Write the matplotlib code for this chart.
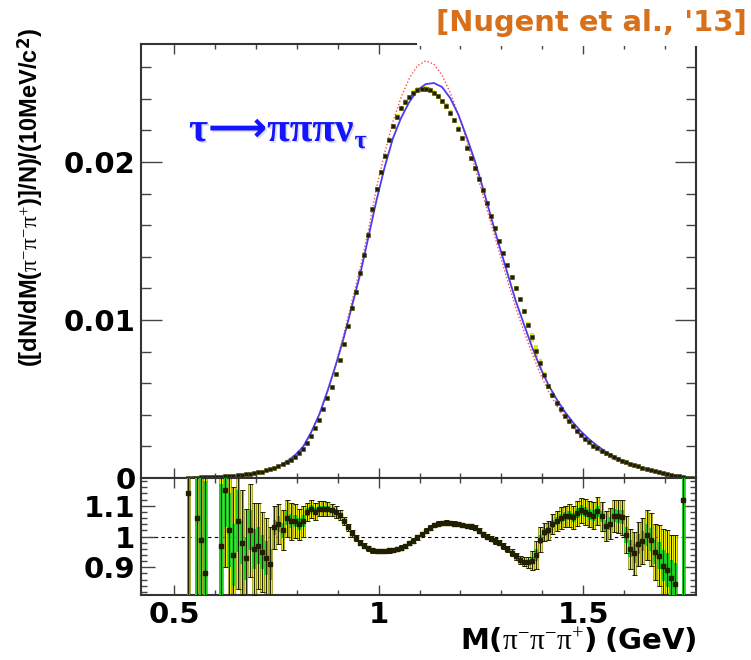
import numpy as np
import matplotlib
matplotlib.use('Agg')
import matplotlib.pyplot as plt
from matplotlib.ticker import MultipleLocator, FuncFormatter
from matplotlib.patches import Rectangle
import matplotlib.patheffects as pe

# 10 MeV bins, first centre at 0.535 GeV
bin_lo = 0.53
bin_w = 0.01
n_bins = 124
mass = np.round(bin_lo + bin_w / 2 + bin_w * np.arange(n_bins), 3)

# normalised spectrum (data points)
data = [0.00001, 0.00002, 0.00003, 0.00004, 0.00005, 0.00006, 0.00007, 0.00008, 0.00009, 0.00010,
        0.00012, 0.00013, 0.00016, 0.00019, 0.00023, 0.00027, 0.00031, 0.00036, 0.00041, 0.00048,
        0.00056, 0.00065, 0.00075, 0.00087, 0.00100, 0.00117, 0.00136, 0.00160, 0.00185, 0.00222,
        0.00265, 0.00315, 0.00370, 0.00435, 0.00505, 0.00578, 0.00660, 0.00745, 0.00845, 0.00960,
        0.01075, 0.01180, 0.01300, 0.01410, 0.01540, 0.01700, 0.01830, 0.01935, 0.02040, 0.02140,
        0.02225, 0.02285, 0.02340, 0.02380, 0.02410, 0.02440, 0.02455, 0.02460, 0.02462, 0.02458,
        0.02440, 0.02415, 0.02385, 0.02355, 0.02310, 0.02265, 0.02210, 0.02150, 0.02090, 0.02025,
        0.01960, 0.01895, 0.01820, 0.01740, 0.01660, 0.01580, 0.01500, 0.01425, 0.01350, 0.01270,
        0.01200, 0.01130, 0.01055, 0.00970, 0.00890, 0.00805, 0.00725, 0.00650, 0.00580, 0.00525,
        0.00475, 0.00435, 0.00395, 0.00360, 0.00330, 0.00300, 0.00272, 0.00247, 0.00225, 0.00205,
        0.00188, 0.00172, 0.00157, 0.00144, 0.00131, 0.00120, 0.00109, 0.00099, 0.00090, 0.00081,
        0.00073, 0.00065, 0.00057, 0.00050, 0.00043, 0.00036, 0.00030, 0.00024, 0.00019, 0.00014,
        0.00010, 0.00006, 0.00003, 0.00001]

nan = np.nan
# ratio panel values and half-widths of the yellow (total) and green (stat) bands
ratio = [1.14, nan, 1.06, 0.99, 0.88, nan, nan, nan, 0.97, 1.15,
         1.02, 0.94, 1.05, 0.98, 0.93, 1.02, 0.96, 0.97, 0.95, 0.93,
         0.91, 1.03, 1.04, 1.02, 1.06, 1.05, 1.05, 1.04, 1.05, 1.08,
         1.09, 1.08, 1.09, 1.09, 1.09, 1.085, 1.08, 1.07, 1.05, 1.03,
         1.01, 0.995, 0.98, 0.97, 0.962, 0.956, 0.953, 0.952, 0.953, 0.955,
         0.957, 0.960, 0.964, 0.970, 0.978, 0.987, 0.997, 1.008, 1.019, 1.029,
         1.037, 1.042, 1.044, 1.045, 1.044, 1.042, 1.040, 1.037, 1.035, 1.033,
         1.028, 1.018, 1.008, 1.000, 0.993, 0.986, 0.980, 0.970, 0.960, 0.948,
         0.936, 0.925, 0.918, 0.916, 0.922, 0.94, 0.99, 1.015, 1.02, 1.04,
         1.05, 1.06, 1.065, 1.068, 1.062, 1.075, 1.085, 1.08, 1.072, 1.068,
         1.082, 1.065, 1.035, 1.042, 1.068, 1.065, 1.062, 1.005, 0.96, 0.945,
         0.975, 0.985, 1.005, 0.99, 0.95, 0.938, 0.905, 0.89, 0.865, 0.845,
         nan, 1.12, nan, nan]

ratio_tot = [0.5, 0, 0.45, 0.42, 0.4, 0, 0, 0, 0.3, 0.25,
             0.25, 0.22, 0.22, 0.17, 0.16, 0.15, 0.15, 0.14, 0.13, 0.13,
             0.12, 0.07, 0.065, 0.065, 0.06, 0.06, 0.055, 0.05, 0.05, 0.03,
             0.03, 0.028, 0.025, 0.025, 0.022, 0.02, 0.02, 0.015, 0.013, 0.012,
             0.010, 0.009, 0.009, 0.008, 0.008, 0.008, 0.008, 0.007, 0.007, 0.007,
             0.007, 0.007, 0.007, 0.007, 0.007, 0.007, 0.007, 0.007, 0.007, 0.007,
             0.007, 0.007, 0.007, 0.007, 0.007, 0.007, 0.007, 0.007, 0.007, 0.008,
             0.008, 0.008, 0.008, 0.008, 0.008, 0.009, 0.009, 0.009, 0.010, 0.011,
             0.012, 0.013, 0.015, 0.018, 0.03, 0.045, 0.04, 0.03, 0.03, 0.032,
             0.033, 0.035, 0.035, 0.037, 0.038, 0.04, 0.04, 0.042, 0.042, 0.044,
             0.045, 0.046, 0.048, 0.05, 0.052, 0.055, 0.058, 0.06, 0.065, 0.07,
             0.072, 0.075, 0.08, 0.085, 0.09, 0.10, 0.12, 0.13, 0.14, 0.16,
             0, 0.5, 0, 0]

ratio_stat = [0.5, 0, 0.3, 0.28, 0.3, 0, 0, 0, 0.2, 0.12,
              0.12, 0.1, 0.1, 0.07, 0.07, 0.065, 0.065, 0.06, 0.055, 0.055,
              0.05, 0.025, 0.025, 0.025, 0.022, 0.022, 0.02, 0.02, 0.02, 0.012,
              0.012, 0.011, 0.01, 0.01, 0.009, 0.008, 0.008, 0.006, 0.005, 0.005,
              0.004, 0.003, 0.003, 0.003, 0.003, 0.003, 0.003, 0.002, 0.002, 0.002,
              0.002, 0.002, 0.002, 0.002, 0.002, 0.002, 0.002, 0.002, 0.002, 0.002,
              0.002, 0.002, 0.002, 0.002, 0.002, 0.002, 0.002, 0.002, 0.002, 0.003,
              0.003, 0.003, 0.003, 0.003, 0.003, 0.003, 0.003, 0.003, 0.004, 0.004,
              0.005, 0.005, 0.006, 0.007, 0.012, 0.018, 0.015, 0.012, 0.012, 0.013,
              0.013, 0.014, 0.014, 0.015, 0.015, 0.016, 0.016, 0.017, 0.017, 0.018,
              0.018, 0.019, 0.02, 0.02, 0.021, 0.022, 0.023, 0.025, 0.028, 0.03,
              0.032, 0.033, 0.035, 0.037, 0.04, 0.045, 0.05, 0.055, 0.06, 0.07,
              0, 0.5, 0, 0]

# model curves, 20 MeV steps from 0.535 GeV
curve_mass = np.round(0.535 + 0.02 * np.arange(63), 3)
model_blue = [0.00001, 0.00003, 0.00005, 0.00007, 0.00009, 0.00012, 0.00016, 0.00021, 0.00029, 0.00038,
              0.00050, 0.00073, 0.00104, 0.00143, 0.00196, 0.00289, 0.00403, 0.00550, 0.00713, 0.00890,
              0.01090, 0.01290, 0.01525, 0.01760, 0.01970, 0.02150, 0.02280, 0.02380, 0.02455, 0.02493,
              0.02500, 0.02475, 0.02405, 0.02300, 0.02160, 0.02010, 0.01835, 0.01650, 0.01470, 0.01296,
              0.01123, 0.00975, 0.00830, 0.00700, 0.00590, 0.00500, 0.00420, 0.00352, 0.00294, 0.00245,
              0.00203, 0.00167, 0.00138, 0.00113, 0.00092, 0.00074, 0.00058, 0.00044, 0.00031, 0.00020,
              0.00011, 0.00004, 0.00000]
model_red = [0.00001, 0.00002, 0.00004, 0.00006, 0.00008, 0.00011, 0.00015, 0.00020, 0.00027, 0.00036,
             0.00048, 0.00072, 0.00100, 0.00138, 0.00190, 0.00285, 0.00400, 0.00550, 0.00720, 0.00910,
             0.01120, 0.01330, 0.01570, 0.01840, 0.02060, 0.02255, 0.02410, 0.02530, 0.02610, 0.02640,
             0.02620, 0.02550, 0.02440, 0.02300, 0.02140, 0.01970, 0.01790, 0.01610, 0.01430, 0.01250,
             0.01080, 0.00930, 0.00790, 0.00660, 0.00550, 0.00460, 0.00380, 0.00320, 0.00260, 0.00215,
             0.00178, 0.00145, 0.00118, 0.00096, 0.00077, 0.00061, 0.00047, 0.00035, 0.00024, 0.00015,
             0.00008, 0.00003, 0.00000]

data = np.array(data)
ratio = np.array(ratio)
ratio_tot = np.array(ratio_tot)
ratio_stat = np.array(ratio_stat)
data_err = data * ratio_tot

plt.rcParams['mathtext.fontset'] = 'custom'
plt.rcParams['mathtext.rm'] = 'Liberation Serif'
plt.rcParams['mathtext.bf'] = 'DejaVu Sans:bold'
plt.rcParams['mathtext.it'] = 'Liberation Serif:italic'

W, H = 751, 660
fig = plt.figure(figsize=(W / 100, H / 100), dpi=100)
ax = fig.add_axes([141 / W, 1 - 478 / H, (696 - 141) / W, (478 - 44) / H])
axr = fig.add_axes([141 / W, 1 - 595 / H, (696 - 141) / W, (595 - 478) / H], sharex=ax)

tick_font = dict(family='DejaVu Sans', weight='bold', size=21)

# main panel
ax.bar(mass, 2 * data_err, bottom=data - data_err, width=0.008,
       color='#e6e600', edgecolor='none', zorder=2)
ax.plot(curve_mass, model_red, color='#ff4a4a', lw=1.0, ls=(0, (1, 1.5)), zorder=3)
ax.plot(curve_mass, model_blue, color='#4b3cf0', lw=1.3, zorder=3)
ax.plot(mass, data, 's', color='#1e1e0a', ms=2.7, mew=0.4, mec='#4a4a00', zorder=4)

ax.set_xlim(0.419, 1.776)
ax.set_ylim(0, 0.02747)
ax.xaxis.set_major_locator(MultipleLocator(0.5))
ax.xaxis.set_minor_locator(MultipleLocator(0.1))
ax.yaxis.set_major_locator(MultipleLocator(0.01))
ax.yaxis.set_minor_locator(MultipleLocator(0.002))
ax.yaxis.set_major_formatter(FuncFormatter(lambda v, p: '%g' % round(v, 4)))
ax.tick_params(which='both', direction='in', top=True, right=True, labelbottom=False,
               color='#444444', width=1.0, pad=4)
ax.tick_params(axis='x', which='major', length=7)
ax.tick_params(axis='x', which='minor', length=3.5)
ax.tick_params(axis='y', which='major', length=15)
ax.tick_params(axis='y', which='minor', length=7.5)
for lab in ax.get_yticklabels():
    lab.set_fontproperties(tick_font)

# ratio panel
ok = ~np.isnan(ratio)
axr.axhline(1.0, color='black', lw=0.8, ls=(0, (3, 3)), zorder=1)
axr.bar(mass[ok], 2 * ratio_tot[ok], bottom=ratio[ok] - ratio_tot[ok], width=0.0085,
        color='#eeee00', edgecolor='#707000', linewidth=0.4, zorder=2)
axr.bar(mass[ok], 2 * ratio_stat[ok], bottom=ratio[ok] - ratio_stat[ok], width=0.0085,
        color='#22cc22', edgecolor='none', zorder=3)
axr.errorbar(mass[ok], ratio[ok], yerr=ratio_tot[ok], fmt='s', ms=2.2, color='#202000',
             elinewidth=0.7, capsize=1.8, capthick=0.7, zorder=4)

axr.set_ylim(0.81, 1.19)
axr.yaxis.set_major_locator(MultipleLocator(0.1))
axr.yaxis.set_minor_locator(MultipleLocator(0.02))
axr.xaxis.set_major_formatter(FuncFormatter(lambda v, p: '%g' % round(v, 2)))
axr.yaxis.set_major_formatter(FuncFormatter(lambda v, p: '%g' % round(v, 2)))
axr.tick_params(which='both', direction='in', top=True, right=True,
                color='#444444', width=1.0, pad=4)
axr.tick_params(axis='x', which='major', length=7)
axr.tick_params(axis='x', which='minor', length=3.5)
axr.tick_params(axis='y', which='major', length=10)
axr.tick_params(axis='y', which='minor', length=4.5)
for lab in axr.get_yticklabels() + axr.get_xticklabels():
    lab.set_fontproperties(tick_font)

for a in (ax, axr):
    for s in a.spines.values():
        s.set_color('#333333')
        s.set_linewidth(1.5)

# axis titles
fig.text(696 / W, 1 - 641 / H,
         r'$\mathbf{M(}\mathrm{\pi^{-}\pi^{-}\pi^{+}}\mathbf{)\ (GeV)}$',
         ha='right', va='center', fontsize=21)
fig.text(31 / W, 1 - 28 / H,
         r'([dN/dM($\mathrm{\pi^{-}\pi^{-}\pi^{+}}$)]/N)/(10MeV/c$^{\mathbf{2}}$)',
         family='Liberation Sans', weight='bold',
         rotation=90, ha='center', va='top', fontsize=17)

# decay label
blue = '#1414ff'
serif = ['Liberation Serif', 'DejaVu Sans']
shadow = [pe.withSimplePatchShadow(offset=(1.2, -1.2), shadow_rgbFace='#9999bb', alpha=0.35)]
decay = fig.text(189 / W, 1 - 141 / H, '\u03c4\u27f6\u03c0\u03c0\u03c0\u03bd',
                 family=serif, weight='bold', fontsize=30,
                 color=blue, ha='left', va='baseline', path_effects=shadow)

# reference label on a white box over the frame
fig.patches.append(Rectangle((417 / W, 1 - 45.5 / H), 1 - 417 / W, 45.5 / H,
                             transform=fig.transFigure, facecolor='white',
                             edgecolor='none', zorder=5))
ref = fig.text(747 / W, 1 - 23 / H, "[Nugent et al., '13]", family='DejaVu Sans',
               weight='bold', fontsize=18, color='#d6701a', ha='right', va='center', zorder=6)

# size the two labels to the width they take in the original
fig.canvas.draw()
rend = fig.canvas.get_renderer()
bb = decay.get_window_extent(rend)
decay.set_fontsize(decay.get_fontsize() * (353 - 189) / bb.width)
bb = ref.get_window_extent(rend)
ref.set_fontsize(ref.get_fontsize() * (747 - 436) / bb.width)
fig.canvas.draw()
bb = decay.get_window_extent(rend)
fig.text((bb.x1 + 1) / W, 1 - 148 / H, '\u03c4',
         family=serif, weight='bold', fontsize=19,
         color=blue, ha='left', va='baseline', path_effects=shadow)

fig.savefig('out.png', dpi=100)
